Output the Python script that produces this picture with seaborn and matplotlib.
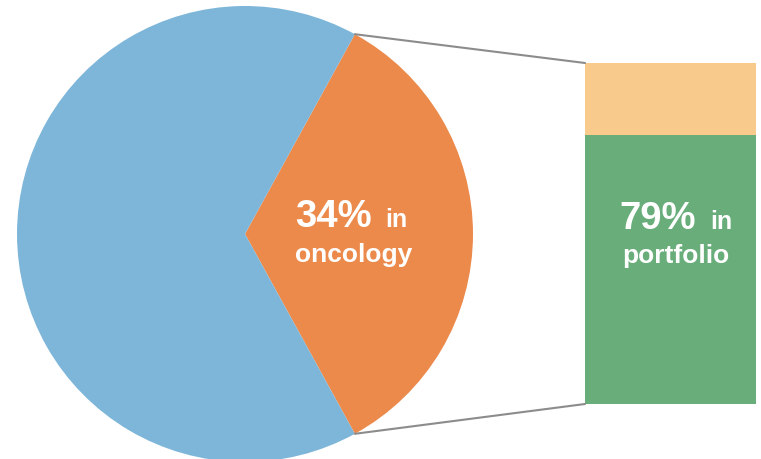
import numpy as np
import matplotlib
matplotlib.use("Agg")
import matplotlib.pyplot as plt
from matplotlib.patches import ConnectionPatch
import seaborn as sns

sns.set_theme(style="white")
plt.rcParams["font.family"] = ["Liberation Sans", "DejaVu Sans"]

# Share of trials by area (pie) and split of the oncology slice (bar)
pie_labels = ["oncology", "other"]
pie_values = [34, 66]
bar_labels = ["portfolio", "not in portfolio"]
bar_values = [79, 21]

pie_colors = ["#EC8A4C", "#7EB6D9"]
bar_colors = ["#68AD7A", "#F8CA8C"]

W, H = 761, 460
fig = plt.figure(figsize=(W / 100, H / 100), dpi=100)


def px_text(x, y, s, size, ha="left"):
    """Place white bold text at pixel position (x from left, y baseline from top)."""
    fig.text(x / W, 1 - y / H, s, color="white", fontsize=size,
             fontweight="bold", ha=ha, va="baseline")


# Pie: circle centred at (245, 235) px with radius 228 px
cx, cy, r = 245, 235, 228
ax_pie = fig.add_axes([(cx - r) / W, (H - cy - r) / H, 2 * r / W, 2 * r / H])
half_angle = pie_values[0] / sum(pie_values) * 360 / 2
wedges, _ = ax_pie.pie(pie_values, colors=pie_colors, startangle=-half_angle,
                       counterclock=True, radius=1,
                       wedgeprops=dict(linewidth=0))
ax_pie.set_xlim(-1, 1)
ax_pie.set_ylim(-1, 1)
ax_pie.set_aspect("equal")
ax_pie.axis("off")

# Stacked bar breaking down the oncology slice
bx0, bx1, by0, by1 = 585, 756, 64, 405
ax_bar = fig.add_axes([bx0 / W, (H - by1) / H, (bx1 - bx0) / W, (by1 - by0) / H])
bottom = 0
for val, col in zip(bar_values, bar_colors):
    ax_bar.bar(0, val, width=1, bottom=bottom, color=col, linewidth=0)
    bottom += val
ax_bar.set_xlim(-0.5, 0.5)
ax_bar.set_ylim(0, sum(bar_values))
ax_bar.axis("off")

# Labels
px_text(295, 227, f"{pie_values[0]}%", 27.5)
px_text(385, 227, "in", 18)
px_text(353.5, 262, pie_labels[0], 19, ha="center")

px_text(619, 229, f"{bar_values[0]}%", 27.5)
px_text(710, 229, "in", 18)
px_text(675.5, 263, bar_labels[0], 19, ha="center")

# Connector lines from the slice edges to the bar corners
theta = np.deg2rad(half_angle)
for sign, ybar in [(1, sum(bar_values)), (-1, 0)]:
    con = ConnectionPatch(xyA=(np.cos(theta), sign * np.sin(theta)), coordsA=ax_pie.transData,
                          xyB=(-0.5, ybar), coordsB=ax_bar.transData,
                          color="#8C8C8C", linewidth=1.5)
    fig.add_artist(con)

fig.savefig("out.png", dpi=100)
